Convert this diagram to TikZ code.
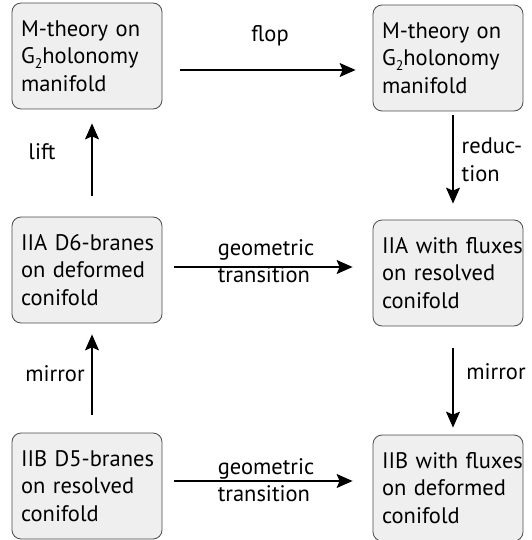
\documentclass[tikz,border=0pt]{standalone}
\usepackage{fontspec}
\setmainfont{PT Sans}
\usepackage{xcolor}
\usepackage{tikz}
\usetikzlibrary{arrows.meta, positioning}
\definecolor{boxfill}{HTML}{EFEFEF}
\definecolor{boxline}{HTML}{4A4A4A}
\newcommand{\gtwo}{G\raisebox{-0.45ex}{\fontsize{14}{14}\selectfont 2}}

\begin{document}
\begin{tikzpicture}[
    x=1pt, y=-1pt,
    box/.style={rectangle, draw=boxline, fill=boxfill, text width=132pt, minimum width=150pt, minimum height=106pt, inner xsep=9pt, inner ysep=5pt, align=left, font=\fontsize{22.5}{27.5}\selectfont, rounded corners=9pt, line width=0.8pt},
    arrow/.style={-{Stealth[length=16pt, width=14pt, inset=3pt]}, line width=1.2pt},
    label/.style={font=\fontsize{22.5}{27.5}\selectfont, align=left, inner sep=0pt}
]
\useasboundingbox (0,0) rectangle (531,540);

\node[box] (mtheoryA) at (87,56) {\mbox{M-theory on}\\\mbox{\gtwo holonomy}\\manifold};
\node[box] (mtheoryB) at (448,58) {\mbox{M-theory on}\\\mbox{\gtwo holonomy}\\manifold};
\node[box] (iiaD) at (87,270) {\mbox{IIA D6-branes}\\\mbox{on deformed}\\conifold};
\node[box] (iiaF) at (448,273) {\mbox{IIA with fluxes}\\\mbox{on resolved}\\conifold};
\node[box] (iibD) at (87,486) {\mbox{IIB D5-branes}\\\mbox{on resolved}\\conifold};
\node[box] (iibF) at (448,488) {\mbox{IIB with fluxes}\\\mbox{on deformed}\\conifold};

\draw[arrow, shorten <=18pt, shorten >=17pt] ([yshift=-14pt]mtheoryA.east) -- ([yshift=-14pt]mtheoryA.east -| mtheoryB.west);
\draw[arrow, shorten <=21pt, shorten >=14pt] ([xshift=5pt]iiaD.north) -- ([xshift=5pt]mtheoryA.south);
\draw[arrow, shorten <=4pt, shorten >=16pt] ([xshift=5pt]mtheoryB.south) -- ([xshift=5pt]iiaF.north);
\draw[arrow, shorten <=12pt, shorten >=20pt] ([yshift=3pt]iiaD.east) -- ([yshift=3pt]iiaD.east -| iiaF.west);
\draw[arrow, shorten <=18pt, shorten >=11pt] ([xshift=5pt]iibD.north) -- ([xshift=5pt]iiaD.south);
\draw[arrow, shorten <=22pt, shorten >=7pt] ([xshift=5pt]iiaF.south) -- ([xshift=5pt]iibF.north);
\draw[arrow, shorten <=12pt, shorten >=20pt] ([yshift=5pt]iibD.east) -- ([yshift=5pt]iibD.east -| iibF.west);

\node[label] at (270,36) {flop};
\node[label] at (42,152) {lift};
\node[label] at (492,160) {reduc-\\tion};
\node[label] at (266,261) {geometric\\transition};
\node[label] at (55,374) {mirror};
\node[label] at (496,372) {mirror};
\node[label] at (266,480) {geometric\\transition};

\end{tikzpicture}
\end{document}
